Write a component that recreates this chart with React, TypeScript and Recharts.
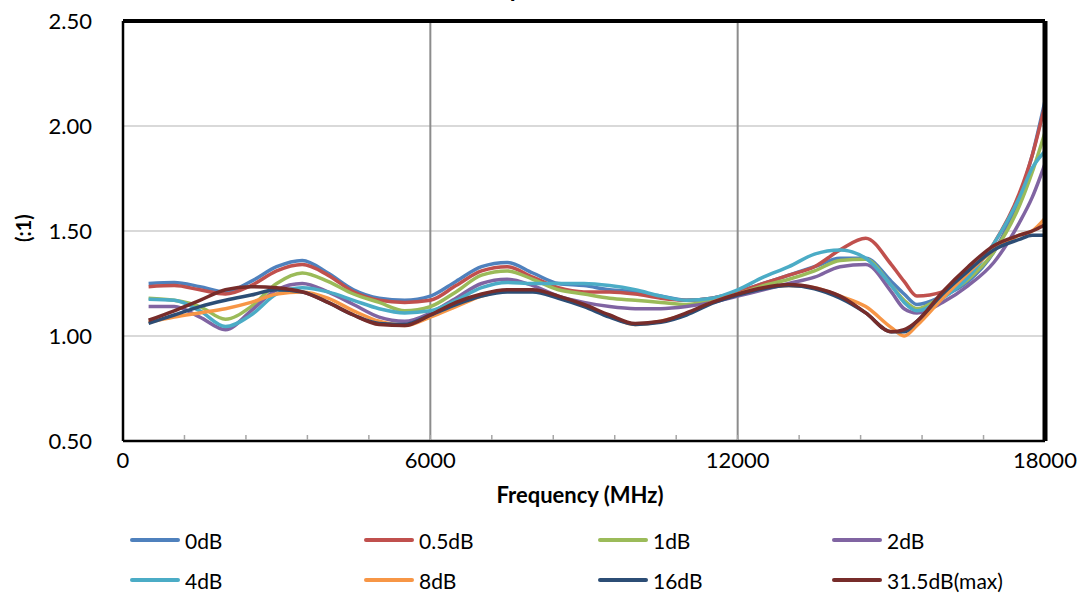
import { LineChart, Line, XAxis, YAxis, CartesianGrid, ReferenceLine, Label } from "recharts";

const freqs = [
  500, 1000, 1500, 2000, 2500, 3000, 3500, 4000, 4500, 5000, 5500, 6000, 6500, 7000, 7500,
  8000, 8500, 9000, 9500, 10000, 10500, 11000, 11500, 12000, 12500, 13000, 13500, 14000,
  14500, 15000, 15250, 15500, 16000, 16500, 17000, 17500, 17750, 18000,
];

const att0 = [
  1.25, 1.255, 1.235, 1.21, 1.26, 1.33, 1.36, 1.3, 1.22, 1.18, 1.17, 1.19, 1.26, 1.33, 1.35,
  1.3, 1.25, 1.24, 1.22, 1.21, 1.19, 1.17, 1.18, 1.21, 1.25, 1.29, 1.33, 1.37, 1.37, 1.26,
  1.2, 1.15, 1.19, 1.26, 1.4, 1.66, 1.86, 2.12,
];
const att05 = [
  1.235, 1.24, 1.22, 1.2, 1.24, 1.31, 1.34, 1.29, 1.21, 1.17, 1.16, 1.17, 1.24, 1.31, 1.33,
  1.28, 1.23, 1.21, 1.21, 1.2, 1.18, 1.17, 1.18, 1.21, 1.25, 1.29, 1.33, 1.41, 1.465, 1.34,
  1.26, 1.19, 1.21, 1.29, 1.44, 1.68, 1.86, 2.1,
];
const att1 = [
  1.18, 1.17, 1.14, 1.08, 1.14, 1.25, 1.3, 1.26, 1.2, 1.16, 1.12, 1.14, 1.21, 1.29, 1.31,
  1.27, 1.22, 1.2, 1.18, 1.17, 1.16, 1.15, 1.17, 1.2, 1.24, 1.27, 1.31, 1.36, 1.365, 1.24,
  1.17, 1.13, 1.19, 1.27, 1.4, 1.62, 1.78, 1.97,
];
const att2 = [
  1.14, 1.14, 1.09, 1.03, 1.12, 1.22, 1.25, 1.21, 1.15, 1.09, 1.07, 1.11, 1.18, 1.25, 1.27,
  1.24, 1.19, 1.16, 1.14, 1.13, 1.13, 1.14, 1.16, 1.19, 1.22, 1.25, 1.28, 1.33, 1.34, 1.21,
  1.13, 1.11, 1.16, 1.24, 1.35, 1.54, 1.66, 1.82,
];
const att4 = [
  1.175, 1.17, 1.12, 1.045, 1.1, 1.2, 1.23, 1.21, 1.17, 1.13, 1.11, 1.12, 1.17, 1.23, 1.255,
  1.25, 1.25, 1.25, 1.24, 1.22, 1.19, 1.17, 1.18, 1.22, 1.28, 1.33, 1.39, 1.41, 1.37, 1.24,
  1.16, 1.12, 1.18, 1.28, 1.44, 1.66, 1.8, 1.88,
];
const att8 = [
  1.065, 1.09, 1.11, 1.13, 1.16, 1.2, 1.21, 1.18, 1.12, 1.07, 1.05, 1.09, 1.14, 1.19, 1.215,
  1.215, 1.185, 1.145, 1.095, 1.055, 1.07, 1.105, 1.16, 1.2, 1.23, 1.24, 1.23, 1.19, 1.14,
  1.04, 1.0, 1.05, 1.18, 1.3, 1.41, 1.48, 1.5, 1.56,
];
const att16 = [
  1.06, 1.1, 1.14, 1.17, 1.195, 1.22, 1.21, 1.16, 1.1, 1.06, 1.055, 1.1, 1.15, 1.19, 1.21,
  1.21, 1.18, 1.14, 1.09, 1.055, 1.065, 1.1, 1.155, 1.195, 1.225, 1.24, 1.225, 1.18, 1.11,
  1.02, 1.02, 1.07, 1.2, 1.31, 1.41, 1.46, 1.48, 1.48,
];
const att315 = [
  1.075, 1.12, 1.17, 1.22, 1.235, 1.23, 1.21, 1.16, 1.1, 1.055, 1.05, 1.1, 1.16, 1.2, 1.22,
  1.22, 1.19, 1.15, 1.1, 1.06, 1.07, 1.11, 1.16, 1.2, 1.23, 1.245, 1.23, 1.19, 1.11, 1.02,
  1.03, 1.07, 1.21, 1.33, 1.43, 1.48, 1.5, 1.53,
];

const yTicks = [0.5, 1, 1.5, 2, 2.5];
const xTicks = [0, 1200, 2400, 3600, 4800, 6000, 7200, 8400, 9600, 10800, 12000, 13200, 14400, 15600, 16800, 18000];
const xLabelTicks = [0, 6000, 12000, 18000];

const series = [
  { key: "s0", name: "0dB", color: "#4F81BD", values: att0 },
  { key: "s05", name: "0.5dB", color: "#C0504D", values: att05 },
  { key: "s1", name: "1dB", color: "#9BBB59", values: att1 },
  { key: "s2", name: "2dB", color: "#8064A2", values: att2 },
  { key: "s4", name: "4dB", color: "#4BACC6", values: att4 },
  { key: "s8", name: "8dB", color: "#F79646", values: att8 },
  { key: "s16", name: "16dB", color: "#2C4D75", values: att16 },
  { key: "s315", name: "31.5dB(max)", color: "#772C2A", values: att315 },
];

const data = freqs.map((f, i) => {
  const row: Record<string, number> = { f };
  series.forEach((s) => (row[s.key] = s.values[i]));
  return row;
});

const FONT = "Lato, 'Open Sans', sans-serif";

const XTick = (props: any) => {
  const { x, y, payload } = props;
  const v = payload.value;
  return (
    <g>
      {v > 0 && v < 18000 && (
        <line x1={x} y1={y - 1} x2={x} y2={y - 6} stroke="#a6a6a6" strokeWidth={1.5} />
      )}
      {xLabelTicks.includes(v) && (
        <text x={x} y={y + 27} textAnchor="middle" fontSize={22} fill="#000" fontFamily={FONT}>
          {v}
        </text>
      )}
    </g>
  );
};

export default function App() {
  return (
    <div style={{ position: "absolute", left: 0, top: 0, width: 1081, height: 596, background: "#fff", fontFamily: FONT }}>
      <LineChart width={1081} height={520} data={data} margin={{ top: 21, right: 36, bottom: 9, left: 23 }}>
        <text x={555} y={-3} textAnchor="middle" fontSize={24} fontWeight="bold" fontFamily={FONT}>
          Input VSWR
        </text>
        <CartesianGrid vertical={false} stroke="#d9d9d9" strokeWidth={2} />
        <XAxis
          dataKey="f"
          type="number"
          domain={[0, 18000]}
          ticks={xTicks}
          interval={0}
          tickSize={0}
          tickMargin={0}
          tickLine={false}
          axisLine={false}
          tick={<XTick />}
          height={70}
        >
          <Label
            content={(p: any) => {
              const vb = p.viewBox;
              return (
                <text x={vb.x + vb.width / 2 - 4} y={vb.y + 62} textAnchor="middle" fontSize={22} fontWeight="bold" fontFamily={FONT}>
                  Frequency (MHz)
                </text>
              );
            }}
          />
        </XAxis>
        <YAxis
          type="number"
          domain={[0.5, 2.5]}
          ticks={yTicks}
          interval={0}
          width={100}
          tickSize={0}
          tickMargin={31}
          tickLine={false}
          axisLine={false}
          tickFormatter={(v: number) => v.toFixed(2)}
          tick={{ fontSize: 22, fill: "#000", fontFamily: FONT }}
        >
          <Label
            content={(p: any) => {
              const vb = p.viewBox;
              const cx = vb.x;
              const cy = vb.y + vb.height / 2 - 3;
              return (
                <text x={cx} y={cy} transform={`rotate(-90, ${cx}, ${cy})`} textAnchor="middle" dominantBaseline="central" fontSize={20} fontWeight="bold" fontFamily={FONT}>
                  (:1)
                </text>
              );
            }}
          />
        </YAxis>
        <ReferenceLine x={6000} stroke="#8c8c8c" strokeWidth={2} />
        <ReferenceLine x={12000} stroke="#8c8c8c" strokeWidth={2} />
        {series.map((s) => (
          <Line
            key={s.key}
            dataKey={s.key}
            name={s.name}
            type="monotone"
            stroke={s.color}
            strokeWidth={3.5}
            dot={false}
            isAnimationActive={false}
          />
        ))}
        <ReferenceLine y={0.5} stroke="#000" strokeWidth={2.5} />
        <ReferenceLine x={0} stroke="#000" strokeWidth={2.5} />
        <ReferenceLine y={2.5} stroke="#000" strokeWidth={4} />
        <ReferenceLine x={18000} stroke="#000" strokeWidth={5} />
      </LineChart>
      <div
        style={{
          position: "absolute",
          left: 130,
          top: 527,
          display: "grid",
          gridTemplateColumns: "234px 234px 234px 234px",
          rowGap: 14,
        }}
      >
        {series.map((s) => (
          <div key={s.key} style={{ display: "flex", alignItems: "center", height: 26 }}>
            <div style={{ width: 50, height: 4, background: s.color, borderRadius: 2 }} />
            <span style={{ marginLeft: 5, fontSize: 21, color: "#000" }}>{s.name}</span>
          </div>
        ))}
      </div>
    </div>
  );
}
